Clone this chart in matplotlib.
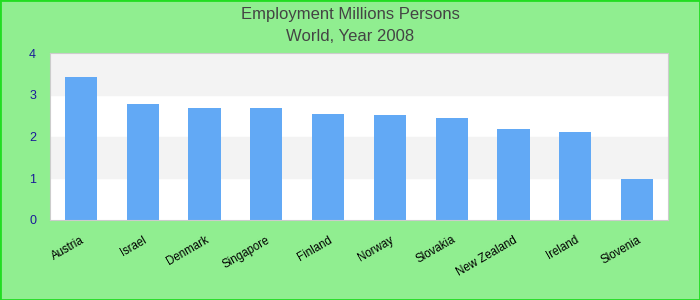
import matplotlib.pyplot as plt
import numpy as np

plt.rcParams['font.family'] = ['Liberation Sans', 'DejaVu Sans']

countries = ["Austria", "Israel", "Denmark", "Singapore", "Finland",
             "Norway", "Slovakia", "New Zealand", "Ireland", "Slovenia"]
employment = [3.43, 2.78, 2.68, 2.68, 2.54, 2.51, 2.44, 2.18, 2.11, 0.98]

fig = plt.figure(figsize=(7, 3), dpi=100, facecolor="#90EE90")
fig.patches.append(plt.Rectangle((0, 0), 1, 1, transform=fig.transFigure,
                                 fill=False, edgecolor="#22DD22", linewidth=2))
ax = fig.add_axes([50 / 700, 80 / 300, 618 / 700, 167 / 300])
ax.set_facecolor("white")

# alternating bands
for lo in range(4):
    if lo % 2 == 1:
        ax.axhspan(lo, lo + 1, color="#F3F3F3", zorder=0)

x = np.arange(len(countries))
ax.bar(x, employment, width=0.52, color="#62A9F5", zorder=2)
ax.set_xlim(-0.5, len(countries) - 0.5)
ax.set_ylim(0, 4)
ax.set_yticks([0, 1, 2, 3, 4])
ax.tick_params(axis="y", length=0, colors="#1A1A99", labelsize=9, pad=10)
ax.set_xticks(x)
ax.set_xticklabels(countries, rotation=30, ha="right", fontsize=8.3,
                   rotation_mode="anchor")
ax.tick_params(axis="x", length=0, pad=10)
for s in ax.spines.values():
    s.set_color("#CCCCCC")

fig.text(0.5, 0.953, "Employment Millions Persons", ha="center", va="center",
         fontsize=12, color="#444444")
fig.text(0.5, 0.877, "World, Year 2008", ha="center", va="center",
         fontsize=12, color="#444444")

fig.savefig("out.png", facecolor=fig.get_facecolor())
